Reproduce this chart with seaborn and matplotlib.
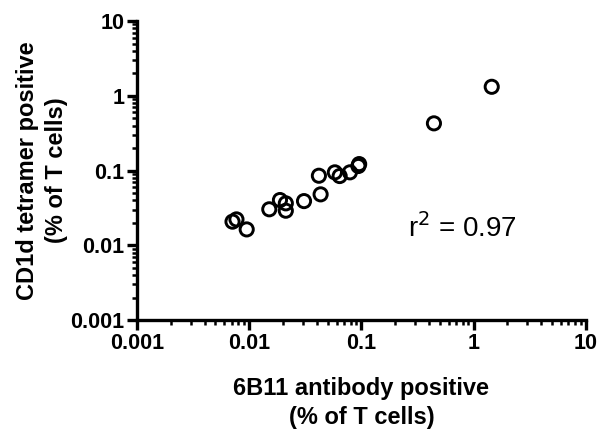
import matplotlib
matplotlib.use("Agg")
import matplotlib.pyplot as plt
import matplotlib.ticker as mticker
import seaborn as sns
import pandas as pd

# 6B11 antibody positive vs CD1d tetramer positive (% of T cells)
antibody_pct = [1.45, 0.443, 0.0955, 0.094, 0.079, 0.064, 0.058, 0.0418, 0.0433,
                0.0308, 0.0212, 0.0212, 0.0188, 0.0151, 0.0077, 0.0071, 0.0095]
tetramer_pct = [1.32, 0.428, 0.122, 0.115, 0.0946, 0.0844, 0.0946, 0.0852, 0.048,
                0.039, 0.029, 0.0364, 0.0403, 0.0303, 0.0222, 0.0207, 0.0163]
r_squared = 0.97
tick_values = [0.001, 0.01, 0.1, 1, 10]
tick_labels = ["0.001", "0.01", "0.1", "1", "10"]

df = pd.DataFrame({"antibody": antibody_pct, "tetramer": tetramer_pct})

sns.set_style("ticks")
plt.rcParams['font.family'] = ['Liberation Sans', 'DejaVu Sans']
plt.rcParams['text.color'] = 'black'
plt.rcParams['axes.labelcolor'] = 'black'

fig = plt.figure(figsize=(5.99, 4.30), dpi=100)
ax = fig.add_axes([0.2287, 0.2558, 0.978 - 0.2287, 0.951 - 0.2558])

sns.scatterplot(data=df, x="antibody", y="tetramer", ax=ax, s=90,
                facecolors="none", edgecolor="black", linewidth=2.1, zorder=3,
                clip_on=False)

ax.set_xscale("log")
ax.set_yscale("log")
ax.set_xlim(0.001, 10)
ax.set_ylim(0.001, 10)
ax.set_xticks(tick_values)
ax.set_xticklabels(tick_labels)
ax.set_yticks(tick_values)
ax.set_yticklabels(tick_labels)
minor = mticker.LogLocator(base=10, subs=range(2, 10))
ax.xaxis.set_minor_locator(minor)
ax.yaxis.set_minor_locator(minor)
ax.xaxis.set_minor_formatter(mticker.NullFormatter())
ax.yaxis.set_minor_formatter(mticker.NullFormatter())

sns.despine(ax=ax)
for side in ["left", "bottom"]:
    ax.spines[side].set_linewidth(2.4)
    ax.spines[side].set_color("black")
ax.tick_params(which="major", length=7, width=2.4, direction="out", colors="black",
               labelsize=15.5, pad=2)
ax.tick_params(which="minor", length=3.5, width=1.8, direction="out", colors="black")
for lab in ax.get_xticklabels() + ax.get_yticklabels():
    lab.set_fontweight("bold")

ax.set_xlabel("6B11 antibody positive\n(% of T cells)", fontsize=17,
              fontweight="bold", labelpad=17, linespacing=1.3)
ax.set_ylabel("CD1d tetramer positive\n(% of T cells)", fontsize=17,
              fontweight="bold", labelpad=2, linespacing=1.3)

ax.text(0.26, 0.017, "r$^2$ = 0.97", fontsize=20, ha="left", va="center")

fig.savefig("out.png", dpi=100)
